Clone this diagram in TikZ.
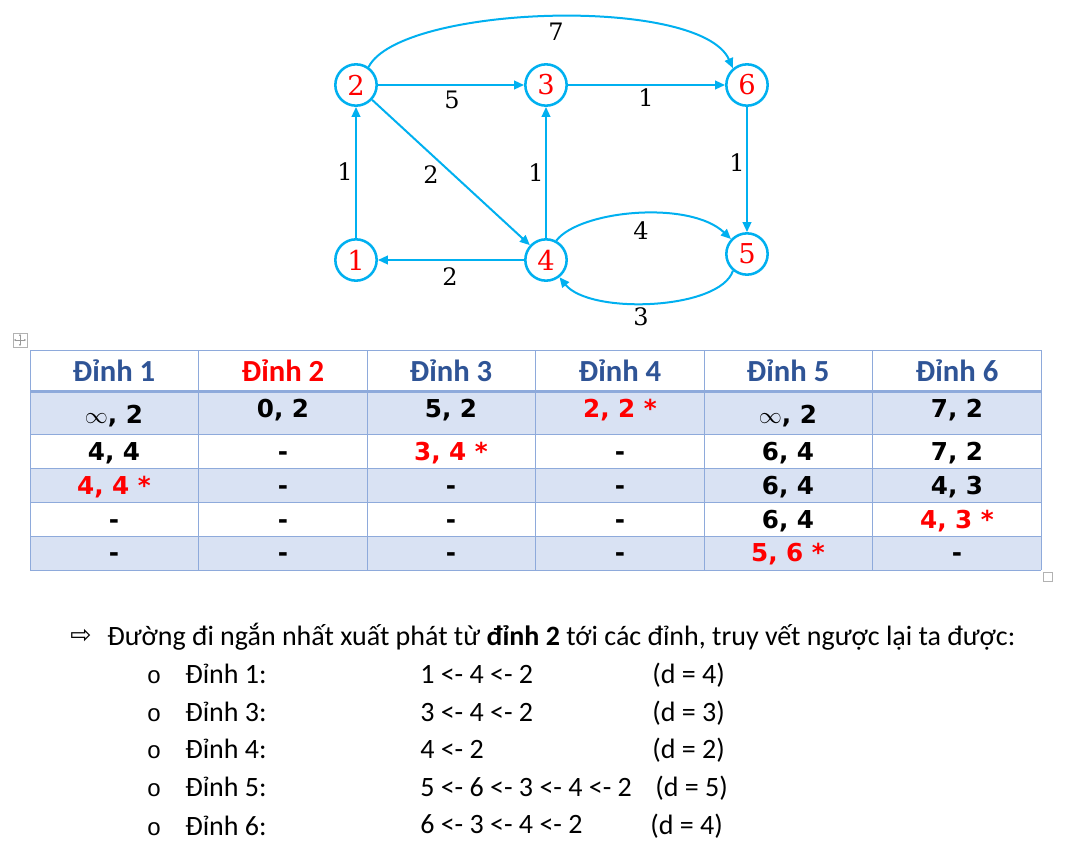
\documentclass[tikz,border=0pt]{standalone}
\usepackage{fontspec}
\newfontfamily\calfont{Carlito}
\newfontfamily\valfont{DejaVu Sans}
\newfontfamily\symfont{DejaVu Sans}
\newfontfamily\grfont{DejaVu Serif}
\newfontfamily\monofont{Liberation Mono}
\usetikzlibrary{arrows.meta}
\definecolor{edgec}{HTML}{00B0F0}
\definecolor{rowfill}{HTML}{D9E2F3}
\definecolor{gridc}{HTML}{8EAADB}
\definecolor{headc}{HTML}{2F5496}
\definecolor{redc}{HTML}{FF0000}
\tikzset{
  vtx/.style={circle,draw=edgec,line width=1.9pt,minimum size=31pt,inner sep=0pt,text=redc,font=\grfont\fontsize{20.5}{20.5}\selectfont},
  edge/.style={draw=edgec,line width=1.5pt,-{Triangle[length=7.5pt,width=6.5pt]}},
  elab/.style={font=\grfont\fontsize{18}{18}\selectfont,inner sep=0pt},
  hd/.style={anchor=base,font=\calfont\bfseries\fontsize{23}{23}\selectfont,text=headc,inner sep=0pt},
  val/.style={anchor=base,font=\valfont\bfseries\fontsize{18.5}{18.5}\selectfont,inner sep=0pt},
  hot/.style={val,text=redc},
  gridline/.style={draw=gridc,line width=0.75pt},
  txt/.style={anchor=base west,font=\calfont\fontsize{21}{21}\selectfont,inner sep=0pt},
  bul/.style={anchor=base,font=\monofont\fontsize{18}{18}\selectfont,inner sep=0pt},
}
\begin{document}
\begin{tikzpicture}[x=0.75pt,y=-0.75pt]
\useasboundingbox (0,0) rectangle (1076,860);
\fill[white] (0,0) rectangle (1076,860);
% ---------- graph ----------
\node[vtx] (n1) at (356,260) {1};
\node[vtx] (n2) at (356,85) {2};
\node[vtx] (n3) at (546,85) {3};
\node[vtx] (n4) at (546,260) {4};
\node[vtx] (n5) at (747,254) {5};
\node[vtx] (n6) at (747,85) {6};
\draw[edge] (n1) -- (n2);
\draw[edge] (n2) -- (n3);
\draw[edge] (n3) -- (n6);
\draw[edge] (n2) -- (n4);
\draw[edge] (n4) -- (n3);
\draw[edge] (n6) -- (n5);
\draw[edge] (n4) -- (n1);
\draw[edge] (n2.55) .. controls (400,5) and (700,-5) .. (n6.130);
\draw[edge] (n4.62) .. controls (580,210) and (690,200) .. (n5.137);
\draw[edge] (n5.230) .. controls (720,310) and (590,315) .. (n4.308);
\node[elab] (l26) at (556,32) {7};
\node[elab] (l23) at (452,100) {5};
\node[elab] (l36) at (646,98) {1};
\node[elab] (l12) at (345,172) {1};
\node[elab] (l24) at (431,175) {2};
\node[elab] (l43) at (536,173) {1};
\node[elab] (l65) at (737,163) {1};
\node[elab] (l45) at (641,231) {4};
\node[elab] (l41) at (450,277) {2};
\node[elab] (l54) at (641,317) {3};
% ---------- table ----------
\fill[rowfill] (30,391) rectangle (1041,434);
\fill[rowfill] (30,468) rectangle (1041,502);
\fill[rowfill] (30,536) rectangle (1041,570);
\foreach \y in {350,434,468,502,536,570} \draw[gridline] (30,\y) -- (1041,\y);
\foreach \x in {30,198.5,367,535.5,704,872.5,1041} \draw[gridline] (\x,350) -- (\x,570);
\draw[draw=gridc,line width=2.25pt] (30,391) -- (1041,391);
% header
\node[hd] (h1) at (114,381) {Đỉnh 1};
\node[hd,text=redc] (h2) at (283,381) {Đỉnh 2};
\node[hd] (h3) at (451,381) {Đỉnh 3};
\node[hd] (h4) at (620,381) {Đỉnh 4};
\node[hd] (h5) at (788,381) {Đỉnh 5};
\node[hd] (h6) at (957,381) {Đỉnh 6};
% row 1
\node[val] (c11) at (114,423) {$\infty$, 2};
\node[val] (c12) at (283,417) {0, 2};
\node[val] (c13) at (451,417) {5, 2};
\node[hot] (c14) at (620,417) {2, 2 *};
\node[val] (c15) at (788,423) {$\infty$, 2};
\node[val] (c16) at (957,417) {7, 2};
% row 2
\node[val] (c21) at (114,460) {4, 4};
\node[val] (c22) at (283,460) {-};
\node[hot] (c23) at (451,460) {3, 4 *};
\node[val] (c24) at (620,460) {-};
\node[val] (c25) at (788,460) {6, 4};
\node[val] (c26) at (957,460) {7, 2};
% row 3
\node[hot] (c31) at (114,494) {4, 4 *};
\node[val] (c32) at (283,494) {-};
\node[val] (c33) at (451,494) {-};
\node[val] (c34) at (620,494) {-};
\node[val] (c35) at (788,494) {6, 4};
\node[val] (c36) at (957,494) {4, 3};
% row 4
\node[val] (c41) at (114,528) {-};
\node[val] (c42) at (283,528) {-};
\node[val] (c43) at (451,528) {-};
\node[val] (c44) at (620,528) {-};
\node[val] (c45) at (788,528) {6, 4};
\node[hot] (c46) at (957,528) {4, 3 *};
% row 5
\node[val] (c51) at (114,561) {-};
\node[val] (c52) at (283,561) {-};
\node[val] (c53) at (451,561) {-};
\node[val] (c54) at (620,561) {-};
\node[hot] (c55) at (788,561) {5, 6 *};
\node[val] (c56) at (957,561) {-};
% table handles
\draw[gray!60,line width=0.6pt] (13,333) rectangle (27,347);
\foreach \a in {0,90,180,270}
  \draw[gray!80,line width=0.5pt,-{Stealth[length=1.6pt,width=1.8pt]}] (20,340) -- ++(\a:4.5pt);
\draw[gray!60,line width=0.6pt] (1043,572) rectangle (1052,581);
% ---------- text ----------
\node[anchor=base,font=\symfont\fontsize{19}{19}\selectfont,inner sep=0pt] (arr) at (81,643) {⇨};
\node[txt] (t0) at (107,645) {Đường đi ngắn nhất xuất phát từ \textbf{đỉnh 2} tới các đỉnh, truy vết ngược lại ta được:};
\node[bul] (b1) at (154,683) {o};
\node[txt] (a1) at (185,683) {Đỉnh 1:};
\node[txt] (p1) at (420,683) {1 <- 4 <- 2};
\node[txt] (d1) at (652,683) {(d = 4)};
\node[bul] (b2) at (154,721) {o};
\node[txt] (a2) at (185,721) {Đỉnh 3:};
\node[txt] (p2) at (420,721) {3 <- 4 <- 2};
\node[txt] (d2) at (652,721) {(d = 3)};
\node[bul] (b3) at (154,758) {o};
\node[txt] (a3) at (185,758) {Đỉnh 4:};
\node[txt] (p3) at (420,758) {4 <- 2};
\node[txt] (d3) at (652,758) {(d = 2)};
\node[bul] (b4) at (154,796) {o};
\node[txt] (a4) at (185,796) {Đỉnh 5:};
\node[txt] (p4) at (420,796) {5 <- 6 <- 3 <- 4 <- 2};
\node[txt] (d4) at (655,796) {(d = 5)};
\node[bul] (b5) at (154,835) {o};
\node[txt] (a5) at (185,835) {Đỉnh 6:};
\node[txt] (p5) at (420,833) {6 <- 3 <- 4 <- 2};
\node[txt] (d5) at (650,834) {(d = 4)};
\end{tikzpicture}
\end{document}
